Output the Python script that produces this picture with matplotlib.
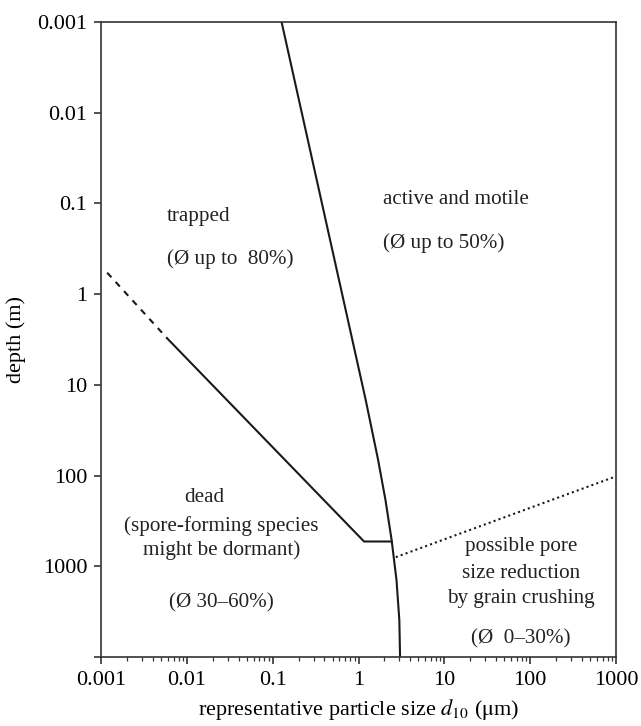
import matplotlib
matplotlib.use("Agg")
import matplotlib.pyplot as plt
from matplotlib.ticker import LogLocator, NullLocator, FixedLocator, FixedFormatter

plt.rcParams['font.family'] = ['Liberation Serif', 'DejaVu Serif']
plt.rcParams['mathtext.fontset'] = 'stix'

# --- data (particle size d10 in µm, depth in m) ---
boundary_x = [0.127, 0.366, 1.21, 1.69, 2.06, 2.43, 2.77, 2.99, 3.05]
boundary_d = [0.001, 0.0899, 14.5, 66.8, 185, 511, 1412, 3908, 10000]

dead_dash_x = [0.00118, 0.00592]
dead_dash_d = [0.58, 3.08]
dead_solid_x = [0.00592, 1.16, 2.44]
dead_solid_d = [3.08, 533, 533]

crush_x = [2.72, 1000]
crush_d = [793, 102]

x_ticks = [0.001, 0.01, 0.1, 1, 10, 100, 1000]
x_labels = ["0.001", "0.01", "0.1", "1", "10", "100", "1000"]
y_ticks = [0.001, 0.01, 0.1, 1, 10, 100, 1000, 10000]
y_labels = ["0.001", "0.01", "0.1", "1", "10", "100", "1000", ""]

W, H = 641, 726
fig = plt.figure(figsize=(W / 100, H / 100), dpi=100)
L, R, T, B = 101, 616, 22, 657
ax = fig.add_axes([L / W, 1 - B / H, (R - L) / W, (B - T) / H])

lw = 1.5
ax.plot(boundary_x, boundary_d, color='#1a1a1a', lw=lw)
ax.plot(dead_dash_x, dead_dash_d, color='#1a1a1a', lw=lw, ls=(0, (3, 3)))
ax.plot(dead_solid_x, dead_solid_d, color='#1a1a1a', lw=lw)
ax.plot(crush_x, crush_d, color='#1a1a1a', lw=lw, ls=(0, (1, 1.5)))

ax.set_xscale('log')
ax.set_yscale('log')
ax.set_xlim(0.001, 1000)
ax.set_ylim(10000, 0.001)

ax.xaxis.set_major_locator(FixedLocator(x_ticks))
ax.xaxis.set_major_formatter(FixedFormatter(x_labels))
ax.xaxis.set_minor_locator(LogLocator(base=10, subs=range(2, 10)))
ax.yaxis.set_major_locator(FixedLocator(y_ticks))
ax.yaxis.set_major_formatter(FixedFormatter(y_labels))
ax.yaxis.set_minor_locator(NullLocator())

ax.tick_params(axis='both', which='major', direction='out', length=5, width=1.2,
               labelsize=16, color='#333333', pad=5)
ax.tick_params(axis='x', which='minor', direction='out', length=3, width=0.9, color='#333333')
for s in ax.spines.values():
    s.set_linewidth(1.2)
    s.set_color('#333333')

ax.set_xlabel(r"representative particle size $d_{10}$ ($\mathrm{\mu}$m)", fontsize=16, labelpad=5)
ax.set_ylabel("depth (m)", fontsize=16, labelpad=8)

fs = 15.2
def txt(px, py, s, ha='left'):
    fig.text(px / W, 1 - py / H, s, ha=ha, va='center', fontsize=fs, color='#222222')

txt(166.7, 216, "trapped")
txt(166.7, 259, "(Ø up to  80%)")
txt(383, 200, "active and motile")
txt(383, 243, "(Ø up to 50%)")
txt(204, 497, "dead", ha='center')
txt(221, 526, "(spore-forming species", ha='center')
txt(222, 550, "might be dormant)", ha='center')
txt(221.7, 603, "(Ø 30–60%)", ha='center')
txt(521, 547, "possible pore", ha='center')
txt(521, 573, "size reduction", ha='center')
txt(521, 598, "by grain crushing", ha='center')
txt(521, 639, "(Ø  0–30%)", ha='center')

fig.savefig("out.png", dpi=100)
